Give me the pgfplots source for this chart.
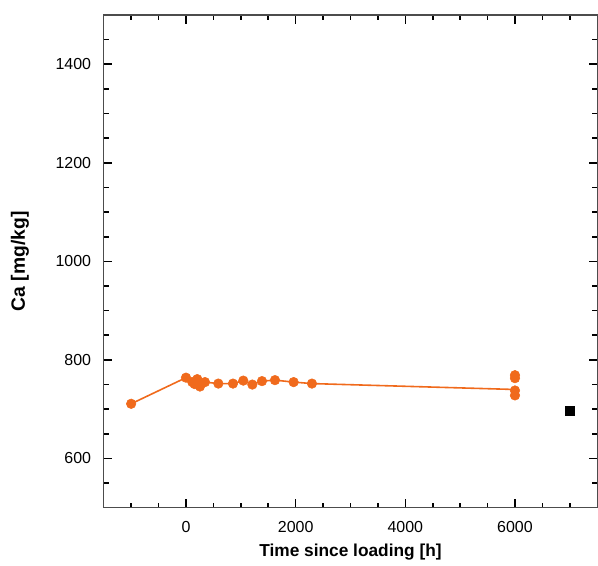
\documentclass[border=0pt]{standalone}
\usepackage{pgfplots}
\pgfplotsset{compat=1.18}
\usepackage{fontspec}
\setmainfont{Liberation Sans}
\definecolor{caorange}{RGB}{240,106,28}
\begin{document}
\begin{tikzpicture}
\begin{axis}[
  scale only axis,
  width=371pt, height=370.5pt,
  xmin=-1500, xmax=7500,
  ymin=500, ymax=1500,
  xtick={0,2000,4000,6000},
  ytick={600,800,1000,1200,1400},
  minor xtick={-1000,-500,500,1000,1500,2500,3000,3500,4500,5000,5500,6500,7000},
  minor ytick={550,650,700,750,850,900,950,1050,1100,1150,1250,1300,1350,1450},
  tick align=inside,
  major tick length=6.5pt,
  minor tick length=3.8pt,
  every tick/.style={black, line width=1.2pt},
  axis line style={line width=1pt},
  x axis line style={draw=black!70},
  xticklabel style={font=\fontsize{12}{14}\selectfont, yshift=-6.5pt},
  yticklabel style={font=\fontsize{12}{14}\selectfont, xshift=-6pt},
  /pgf/number format/assume math mode=true,
  /pgf/number format/1000 sep={},
  xlabel={\textbf{Time since loading [h]}},
  ylabel={\textbf{Ca [mg/kg]}},
  xlabel style={font=\fontsize{13}{15}\selectfont, at={(axis description cs:0.5,-0.09)}, anchor=center},
  ylabel style={font=\fontsize{14.5}{16}\selectfont, at={(axis description cs:-0.17,0.5)}, anchor=center, rotate=0},
  clip=false,
]
\addplot[caorange, line width=1.2pt, mark=none] coordinates {
  (-1000,711) (0,764) (115,755) (158,751) (206,761) (255,746) (346,755)
  (590,752) (857,752) (1045,758) (1210,750) (1386,757) (1623,759)
  (1963,755) (2297,752) (6000,740)
};
\addplot[only marks, mark=*, mark size=3.6pt, color=caorange, mark options={draw=caorange, fill=caorange}] coordinates {
  (-1000,711) (0,764) (115,755) (158,751) (206,761) (255,746) (346,755)
  (590,752) (857,752) (1045,758) (1210,750) (1386,757) (1623,759)
  (1963,755) (2297,752)
  (6000,769) (6000,763) (6000,738) (6000,728)
};
\addplot[only marks, mark=square*, mark size=3.5pt, black] coordinates {(7000,697)};
\path (rel axis cs:0,0) ++(-78pt,-43.5pt) coordinate (bbA);
\path (rel axis cs:1,1) ++(0pt,11.25pt) coordinate (bbB);
\end{axis}
\path (bbA) rectangle (bbB);
\end{tikzpicture}
\end{document}
